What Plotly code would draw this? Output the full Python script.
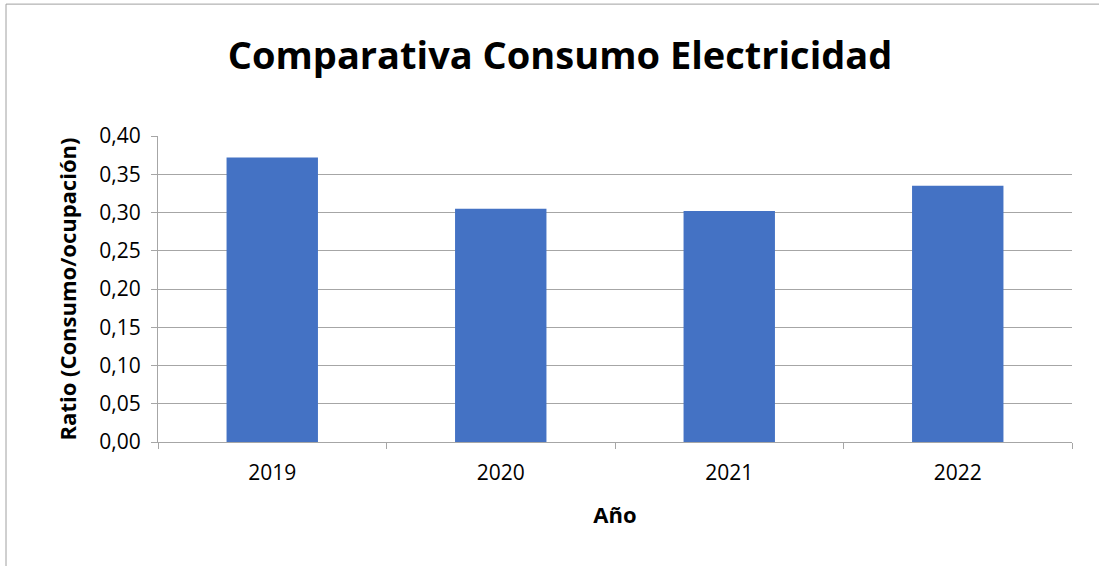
import plotly.graph_objects as go

# data
years = ["2019", "2020", "2021", "2022"]
ratio = [0.372, 0.305, 0.302, 0.335]

title_text = "Comparativa Consumo Electricidad"
x_title = "Año"
y_title = "Ratio (Consumo/ocupación)"

bar_color = "#4472C4"
grid_color = "#a6a6a6"
font_family = "'Open Sans', Lato, sans-serif"

fig = go.Figure()

fig.add_trace(
    go.Bar(
        x=years,
        y=ratio,
        marker=dict(color=bar_color, line=dict(width=0)),
        width=0.4,
        showlegend=False,
    )
)

fig.update_layout(
    width=1099,
    height=566,
    margin=dict(l=158, r=27, t=136, b=124),
    paper_bgcolor="white",
    plot_bgcolor="white",
    separators=",.",
    font=dict(family=font_family, size=21, color="#000000"),
    title=dict(
        text=f"<b>{title_text}</b>",
        font=dict(family=font_family, size=38, color="#000000"),
        xref="container",
        x=0.5096,
        xanchor="center",
        yref="container",
        y=0.902,
        yanchor="middle",
    ),
    xaxis=dict(
        type="category",
        showline=True,
        linecolor=grid_color,
        linewidth=1,
        ticks="outside",
        tickson="boundaries",
        ticklen=6,
        tickcolor=grid_color,
        ticklabelstandoff=12,
        showgrid=False,
        tickfont=dict(size=21),
        title=dict(text=f"<b>{x_title}</b>", font=dict(size=22), standoff=22),
    ),
    yaxis=dict(
        range=[0, 0.40],
        dtick=0.05,
        tickformat=".2f",
        showline=True,
        linecolor=grid_color,
        linewidth=1,
        ticks="outside",
        ticklen=6,
        tickcolor=grid_color,
        ticklabelstandoff=6,
        showgrid=True,
        gridcolor=grid_color,
        gridwidth=1,
        zeroline=False,
        tickfont=dict(size=21),
        title=dict(text=f"<b>{y_title}</b>", font=dict(size=22), standoff=16),
    ),
)

# chart border like the spreadsheet chart area
fig.add_shape(
    type="rect",
    xref="paper",
    yref="paper",
    x0=-0.1663,
    x1=1.2,
    y0=-1.0,
    y1=1.431,
    line=dict(color="#a0a0a0", width=1),
    fillcolor="rgba(0,0,0,0)",
    layer="above",
)

fig.write_html(
    "out.html",
    config={"displayModeBar": False},
    post_script="document.body.style.margin='0';",
)
